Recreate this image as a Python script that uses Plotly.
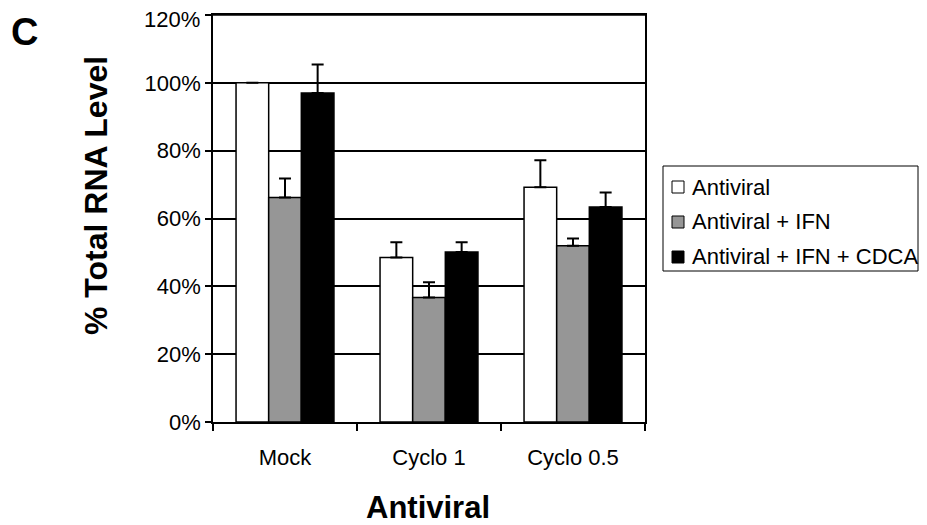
import plotly.graph_objects as go

categories = ["Mock", "Cyclo 1", "Cyclo 0.5"]
series_names = ["Antiviral", "Antiviral + IFN", "Antiviral + IFN + CDCA"]
antiviral = [100.0, 48.5, 69.2]
antiviral_err = [0.0, 4.5, 8.0]
antiviral_ifn = [66.2, 36.7, 52.0]
antiviral_ifn_err = [5.6, 4.5, 2.1]
antiviral_ifn_cdca = [97.0, 50.1, 63.4]
antiviral_ifn_cdca_err = [8.4, 2.9, 4.3]
y_ticks = [0, 20, 40, 60, 80, 100, 120]
y_tick_labels = ["0%", "20%", "40%", "60%", "80%", "100%", "120%"]

colors = ["#ffffff", "#969696", "#000000"]
values = [antiviral, antiviral_ifn, antiviral_ifn_cdca]
errors = [antiviral_err, antiviral_ifn_err, antiviral_ifn_cdca_err]

FONT = "Liberation Sans, Arial, Helvetica, sans-serif"

# page body has an 8px default margin; target screen geometry below
OFF = 8
L, R, T, B = 213, 645, 15, 422
PW, PH = R - L, B - T


def px(x):
    return (x - L) / PW


def py(y):
    return (B - y) / PH


fig = go.Figure()
for name, vals, errs, col in zip(series_names, values, errors, colors):
    fig.add_trace(go.Bar(
        x=categories, y=vals, name=name,
        marker=dict(color=col, line=dict(color="black", width=1.5)),
        error_y=dict(type="data", array=errs, arrayminus=[0] * len(errs),
                     symmetric=False, color="black", thickness=2, width=6),
    ))

fig.update_layout(
    width=927 - OFF, height=525 - OFF,
    margin=dict(l=L - OFF, r=927 - R, t=T - OFF, b=525 - B, autoexpand=False),
    paper_bgcolor="white", plot_bgcolor="white",
    barmode="group", bargap=0.32, bargroupgap=0,
    font=dict(family=FONT, color="black", size=22),
    showlegend=False,
)

# top tick label is drawn separately (nudged down so it stays inside the page)
shown_tick_text = y_tick_labels[:-1] + [""]

fig.update_xaxes(
    automargin=False,
    showline=True, linecolor="black", linewidth=1.5, mirror=True,
    ticks="outside", tickson="boundaries", ticklen=7, tickwidth=1.5, tickcolor="black",
    ticklabelstandoff=15, ticklabeloverflow="allow",
    tickfont=dict(size=22, family=FONT, color="black"),
    showgrid=False,
)
fig.update_yaxes(
    automargin=False,
    range=[0, 120], tickvals=y_ticks, ticktext=shown_tick_text,
    showline=True, linecolor="black", linewidth=1.5, mirror=True,
    ticks="outside", ticklen=6, tickwidth=1.5, tickcolor="black",
    ticklabeloverflow="allow",
    tickfont=dict(size=22, family=FONT, color="black"),
    showgrid=True, gridcolor="black", gridwidth=1.5,
    zeroline=False,
)
fig.add_annotation(
    text=y_tick_labels[-1], xref="paper", yref="y",
    x=0, y=y_ticks[-1], xanchor="right", yanchor="middle",
    xshift=-11, yshift=-4,
    showarrow=False, font=dict(size=22, family=FONT, color="black"),
)

# top frame line of the plot area
fig.add_shape(type="line", xref="paper", yref="paper",
              x0=0, x1=1, y0=1, y1=1,
              line=dict(color="black", width=1.5), layer="above")

# axis titles
fig.add_annotation(
    text="<b>Antiviral</b>", xref="paper", yref="paper",
    x=px(428), y=py(507), xanchor="center", yanchor="middle",
    showarrow=False, font=dict(size=31, family=FONT, color="black"),
)
fig.add_annotation(
    text="<b>% Total RNA Level</b>", xref="paper", yref="paper", textangle=-90,
    x=px(96), y=py(196), xanchor="center", yanchor="middle",
    showarrow=False, font=dict(size=32, family=FONT, color="black"),
)
fig.add_annotation(
    text="<b>C</b>", xref="paper", yref="paper",
    x=px(24), y=py(32), xanchor="center", yanchor="middle",
    showarrow=False, font=dict(size=38, family=FONT, color="black"),
)

# legend box
fig.add_shape(type="rect", xref="paper", yref="paper",
              x0=px(663), x1=px(918), y0=py(166), y1=py(271),
              line=dict(color="black", width=1), fillcolor="white", layer="above")
row_y = [187, 222, 257]
for name, col, yy in zip(series_names, colors, row_y):
    fig.add_shape(type="rect", xref="paper", yref="paper",
                  x0=px(672), x1=px(684), y0=py(yy - 6), y1=py(yy + 6),
                  line=dict(color="black", width=1), fillcolor=col, layer="above")
    fig.add_annotation(
        text=name, xref="paper", yref="paper",
        x=px(690), y=py(yy), xanchor="left", yanchor="middle",
        showarrow=False, font=dict(size=22, family=FONT, color="black"),
    )

fig.write_html("out.html")
